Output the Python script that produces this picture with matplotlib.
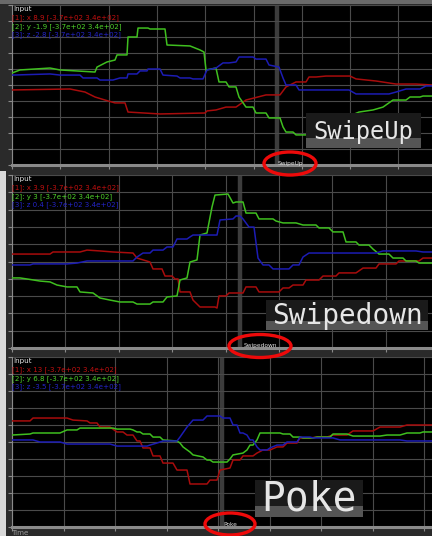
import numpy as np
import matplotlib
matplotlib.use("Agg")
import matplotlib.pyplot as plt
from matplotlib.patches import Rectangle, Ellipse

W, H = 432, 536

# gesture recordings: (time sample, level in grid units 0..10)
SWIPEUP_X = [(0, 4.69), (58, 4.75), (73, 4.56), (83, 4.25), (93, 4.06), (103, 3.88), (113, 3.88),
             (116, 3.31), (148, 3.19), (193, 3.25), (195, 3.38), (204, 3.44), (214, 3.62), (224, 3.62),
             (234, 4.06), (254, 4.38), (268, 4.38), (274, 4.88), (284, 5.19), (294, 5.19), (297, 5.5),
             (304, 5.5), (314, 5.56), (338, 5.56), (344, 5.38), (364, 5.25), (384, 5.06), (404, 5.06),
             (420, 5.0)]
SWIPEUP_Y = [(0, 5.75), (8, 5.94), (38, 6.06), (48, 5.94), (83, 5.81), (85, 6.12), (95, 6.44),
             (103, 6.56), (105, 6.88), (115, 6.88), (116, 8.0), (125, 8.0), (126, 8.56), (136, 8.56),
             (138, 8.5), (153, 8.5), (155, 7.5), (178, 7.44), (188, 7.19), (192, 7.06), (194, 5.94),
             (204, 6.06), (207, 5.19), (214, 5.19), (217, 4.88), (224, 4.88), (227, 4.25), (234, 3.62),
             (241, 3.62), (244, 3.25), (254, 3.25), (257, 2.94), (268, 2.94), (271, 2.38), (274, 2.06),
             (281, 2.06), (284, 1.88), (294, 1.88), (347, 3.31), (361, 3.44), (371, 3.62), (381, 4.06),
             (394, 4.06), (398, 4.25), (408, 4.25), (411, 4.31), (420, 4.31)]
SWIPEUP_Z = [(0, 5.62), (38, 5.69), (48, 5.62), (68, 5.62), (71, 5.44), (85, 5.44), (88, 5.31),
             (101, 5.31), (108, 5.44), (115, 5.44), (116, 5.69), (125, 5.69), (128, 5.88), (135, 5.88),
             (136, 6.0), (148, 6.0), (151, 5.62), (165, 5.56), (168, 5.44), (178, 5.44), (181, 5.38),
             (191, 5.38), (195, 5.94), (204, 6.06), (211, 6.38), (217, 6.38), (224, 6.44), (227, 6.75),
             (241, 6.75), (244, 6.62), (254, 6.62), (257, 6.25), (267, 6.12), (271, 5.44), (274, 5.0),
             (284, 5.0), (287, 4.69), (337, 4.69), (344, 4.44), (377, 4.44), (384, 4.56), (394, 4.75),
             (408, 4.75), (414, 4.94), (420, 4.94)]

SWIPEDOWN_X = [(0, 5.43), (38, 5.43), (41, 5.55), (68, 5.55), (75, 5.66), (88, 5.61), (101, 5.55),
               (121, 5.49), (125, 5.20), (138, 4.97), (141, 4.57), (150, 4.57), (153, 4.16), (160, 4.16),
               (163, 3.99), (166, 3.99), (168, 3.24), (178, 3.24), (181, 2.77), (188, 2.37), (203, 2.37),
               (205, 2.31), (207, 3.01), (214, 3.01), (217, 3.18), (231, 3.18), (234, 3.53), (244, 3.53),
               (247, 3.24), (267, 3.24), (271, 3.47), (277, 3.47), (281, 3.64), (291, 3.64), (294, 3.93),
               (307, 3.93), (311, 4.16), (324, 4.16), (327, 4.34), (344, 4.34), (351, 4.62), (364, 4.62),
               (367, 4.86), (384, 4.86), (387, 5.03), (407, 5.03), (411, 5.20), (420, 5.20)]
SWIPEDOWN_Y = [(0, 4.05), (8, 4.05), (15, 3.99), (28, 3.87), (38, 3.82), (45, 3.64), (55, 3.53),
               (65, 3.53), (68, 3.24), (81, 3.18), (88, 2.89), (98, 2.77), (108, 2.66), (121, 2.66),
               (125, 2.54), (138, 2.54), (141, 2.66), (151, 2.66), (155, 2.95), (165, 3.01), (168, 3.93),
               (175, 4.05), (178, 4.97), (185, 5.09), (188, 6.53), (195, 6.65), (200, 8.15), (203, 8.84),
               (216, 8.90), (221, 8.38), (224, 8.44), (231, 8.44), (234, 7.80), (244, 7.80), (247, 7.46),
               (261, 7.46), (264, 7.34), (271, 7.23), (284, 7.23), (291, 7.11), (304, 7.11), (307, 6.94),
               (317, 6.94), (321, 6.71), (331, 6.71), (334, 6.13), (344, 6.13), (347, 5.95), (357, 5.95),
               (361, 5.72), (367, 5.43), (377, 5.43), (381, 5.20), (391, 5.20), (394, 5.03), (404, 5.03),
               (407, 4.91), (420, 4.91)]
SWIPEDOWN_Z = [(0, 4.80), (18, 4.80), (21, 4.86), (55, 4.86), (65, 4.91), (75, 5.03), (121, 5.03),
               (125, 5.26), (131, 5.49), (138, 5.49), (141, 5.66), (151, 5.66), (155, 5.84), (161, 5.84),
               (165, 6.30), (175, 6.30), (178, 6.42), (181, 6.53), (205, 6.53), (208, 7.40), (221, 7.46),
               (224, 7.63), (228, 7.63), (231, 7.46), (237, 6.99), (242, 6.99), (246, 5.20), (251, 4.80),
               (257, 4.80), (261, 4.57), (277, 4.57), (281, 4.80), (287, 4.80), (291, 5.26), (297, 5.49),
               (364, 5.49), (371, 5.61), (404, 5.61), (411, 5.55), (420, 5.55)]

POKE_X = [(0, 6.24), (18, 6.24), (21, 6.41), (55, 6.41), (61, 6.29), (75, 6.24), (78, 6.12), (85, 6.12),
          (88, 5.88), (98, 5.88), (105, 5.59), (111, 5.59), (115, 5.41), (121, 5.41), (125, 5.06),
          (128, 5.06), (131, 4.65), (138, 4.65), (141, 4.18), (148, 4.18), (151, 3.76), (161, 3.76),
          (165, 3.35), (175, 3.35), (178, 2.53), (195, 2.53), (198, 2.76), (205, 2.76), (208, 3.35),
          (218, 3.47), (221, 3.94), (228, 3.94), (231, 4.18), (241, 4.18), (245, 4.35), (251, 4.53),
          (258, 4.53), (265, 4.71), (271, 4.71), (275, 4.94), (285, 4.94), (288, 5.24), (298, 5.24),
          (305, 5.29), (315, 5.29), (321, 5.41), (335, 5.41), (341, 5.65), (361, 5.65), (368, 5.88),
          (388, 5.88), (395, 6.00), (420, 6.00)]
POKE_Y = [(0, 5.41), (18, 5.47), (21, 5.53), (48, 5.53), (55, 5.71), (65, 5.71), (68, 5.82), (101, 5.82),
          (105, 5.76), (118, 5.76), (121, 5.71), (125, 5.59), (128, 5.59), (131, 5.47), (138, 5.47),
          (141, 5.29), (148, 5.29), (151, 5.12), (165, 5.06), (168, 4.94), (171, 4.71), (178, 4.41),
          (181, 4.24), (191, 4.12), (195, 3.94), (198, 3.94), (201, 3.82), (215, 3.82), (218, 4.0),
          (221, 4.24), (231, 4.35), (235, 4.53), (238, 4.82), (241, 4.82), (245, 5.12), (248, 5.53),
          (268, 5.53), (271, 5.47), (278, 5.47), (281, 5.29), (288, 5.29), (291, 5.24), (301, 5.24),
          (305, 5.29), (318, 5.29), (321, 5.47), (335, 5.47), (341, 5.35), (368, 5.35), (375, 5.41),
          (388, 5.41), (395, 5.53), (408, 5.53), (411, 5.59), (420, 5.59)]
POKE_Z = [(0, 5.12), (21, 5.12), (28, 5.0), (48, 5.0), (55, 4.88), (98, 4.88), (105, 4.76), (135, 4.76),
          (138, 4.82), (145, 4.94), (151, 5.06), (165, 5.06), (168, 5.29), (175, 5.88), (181, 6.29),
          (191, 6.29), (195, 6.53), (208, 6.53), (211, 6.41), (218, 6.41), (221, 6.0), (225, 6.0),
          (228, 5.53), (231, 5.53), (235, 5.41), (238, 5.12), (241, 5.12), (245, 4.71), (248, 4.53),
          (255, 4.53), (258, 4.65), (265, 4.82), (271, 4.82), (275, 5.0), (285, 5.0), (288, 5.29),
          (298, 5.29), (301, 5.24), (321, 5.24), (328, 5.12), (388, 5.12), (395, 5.06), (420, 5.06)]

GESTURES = ["SwipeUp", "Swipedown", "Poke"]
EVENT_T = [265, 228, 210]
LEGENDS = [
    ["[1]: x 8.9 [-3.7e+02 3.4e+02]", "[2]: y -1.9 [-3.7e+02 3.4e+02]", "[3]: z -2.8 [-3.7e+02 3.4e+02]"],
    ["[1]: x 3.9 [-3.7e+02 3.4e+02]", "[2]: y 3 [-3.7e+02 3.4e+02]", "[3]: z 0.4 [-3.7e+02 3.4e+02]"],
    ["[1]: x 13 [-3.7e+02 3.4e+02]", "[2]: y 6.8 [-3.7e+02 3.4e+02]", "[3]: z -3.5 [-3.7e+02 3.4e+02]"],
]
SERIES = [
    [SWIPEUP_X, SWIPEUP_Y, SWIPEUP_Z],
    [SWIPEDOWN_X, SWIPEDOWN_Y, SWIPEDOWN_Z],
    [POKE_X, POKE_Y, POKE_Z],
]

LINE_COLORS = ["#a80c0c", "#3fbf1f", "#1c1cb4"]
TEXT_COLORS = ["#c41010", "#4fd22a", "#2424c8"]
GRID = "#4a4a4a"
BG = "#000000"

# panel layout in pixels: top, bottom, x grid spacing
PANELS = [(5, 165, 48.3), (175, 348, 53.4), (357, 527, 51.5)]
LEFT = 12
# big label boxes: x0, y0, x1, y1, fontsize
BIG_BOX = [(306, 113, 421, 148, 17), (266, 300, 428, 330, 20), (255, 480, 363, 517, 28.5)]
# red ellipses: cx, cy, w, h
RINGS = [(290, 163.5, 52, 23), (260, 346, 62, 23), (230, 524, 50, 22)]


def fx(px):
    return px / W


def fy(py):
    return 1 - py / H


def main():
    fig = plt.figure(figsize=(W / 100, H / 100), dpi=100)
    fig.patch.set_facecolor("#2a2a2a")

    for i, (top, bot, step) in enumerate(PANELS):
        ax = fig.add_axes([fx(LEFT), fy(bot), 1 - fx(LEFT), (bot - top) / H])
        ax.set_facecolor(BG)
        ax.set_xlim(0, 420)
        ax.set_ylim(0, 10)
        ax.set_xticks(np.arange(0, 421, step))
        ax.set_yticks(range(11))
        ax.grid(True, color=GRID, lw=0.8)
        ax.tick_params(labelleft=False, labelbottom=False, length=3, color="#8a8a8a", width=0.8)
        for s in ["top", "right"]:
            ax.spines[s].set_visible(False)
        ax.spines["left"].set_color("#8a8a8a")
        ax.spines["bottom"].set_color("#8a8a8a")
        ax.spines["bottom"].set_linewidth(2.2)
        ax.axvline(EVENT_T[i], color="#3c3c3c", lw=3.2, zorder=1)
        for series, col in zip(SERIES[i], LINE_COLORS):
            t = [p[0] for p in series]
            v = [p[1] for p in series]
            ax.plot(t, v, color=col, lw=1.1, zorder=3)

    ov = fig.add_axes([0, 0, 1, 1], zorder=10)
    ov.set_xlim(0, W)
    ov.set_ylim(H, 0)
    ov.axis("off")
    ov.patch.set_visible(False)

    ov.add_patch(Rectangle((0, 0), W, 3.5, color="#6a6a6a", lw=0))
    ov.add_patch(Rectangle((0, 171), 6, H - 171, color="#d8d8d8", lw=0))

    for i, (top, bot, step) in enumerate(PANELS):
        ov.text(13, top + 4, "Input", color="#e8e8e8", fontsize=5.1, va="center", ha="left")
        for k, (txt, col) in enumerate(zip(LEGENDS[i], TEXT_COLORS)):
            ov.text(12, top + 12.5 + 8.8 * k, txt, color=col, fontsize=5.1, va="center", ha="left")

        x0, y0, x1, y1, fs = BIG_BOX[i]
        ov.add_patch(Rectangle((x0, y0), x1 - x0, y1 - y0, color="#1a1a1a", lw=0, zorder=4))
        ov.add_patch(Rectangle((x0, y1 - (y1 - y0) * 0.3), x1 - x0, (y1 - y0) * 0.3,
                               color="#555555", lw=0, zorder=4))
        ov.text((x0 + x1) / 2, (y0 + y1) / 2 + 1, GESTURES[i], color="#e6e6e6", fontsize=fs,
                family="DejaVu Sans Mono", ha="center", va="center", zorder=5)

        cx, cy, ew, eh = RINGS[i]
        ov.text(cx, cy, GESTURES[i], color="#dcdcdc", fontsize=4.2, ha="center", va="center", zorder=5)
        ov.add_patch(Ellipse((cx, cy), ew, eh, fill=False, edgecolor="#ee0a0a", lw=2.4, zorder=6))

    ov.text(12, 533, "Time", color="#9a9a9a", fontsize=5.1, ha="left", va="center")

    fig.savefig("out.png", dpi=100, facecolor=fig.get_facecolor())
    plt.close(fig)


if __name__ == "__main__":
    main()
